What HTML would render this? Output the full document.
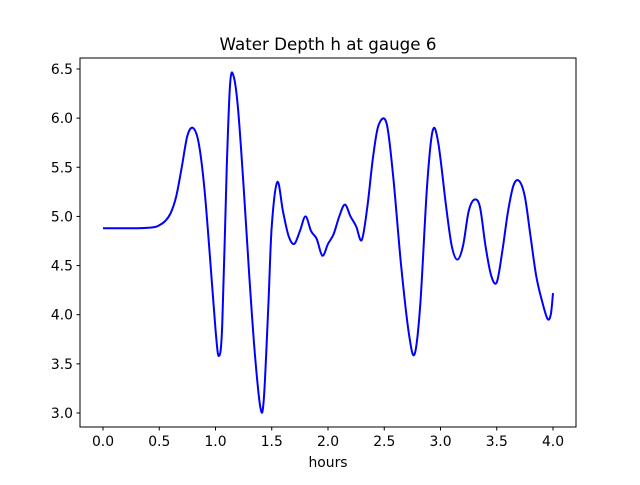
<!DOCTYPE html>
<html><head><meta charset="utf-8"><style>
body{margin:0;background:#fff}
svg text{font-family:"DejaVu Sans","Liberation Sans",sans-serif;fill:#000}
</style></head><body>
<svg id="chart" width="640" height="480" xmlns="http://www.w3.org/2000/svg">
<rect width="640" height="480" fill="#fff"/>
<text x="328" y="50" font-size="16.7" text-anchor="middle">Water Depth h at gauge 6</text>
<g id="axes"></g>
<path id="line" fill="none" stroke="#0000ff" stroke-width="2"/>
<rect x="80" y="58" width="496" height="369" fill="none" stroke="#000" stroke-width="1"/>
<text x="328" y="467" font-size="13.9" text-anchor="middle">hours</text>
</svg>
<script>
const hours=[0,0.3,0.45,0.5,0.55,0.6,0.65,0.7,0.75,0.8,0.85,0.9,0.95,1.0,1.03,1.06,1.1,1.13,1.16,1.2,1.25,1.3,1.35,1.4,1.43,1.47,1.5,1.55,1.6,1.65,1.7,1.75,1.8,1.85,1.9,1.95,2.0,2.05,2.1,2.15,2.2,2.25,2.3,2.35,2.4,2.45,2.52,2.58,2.65,2.72,2.77,2.82,2.88,2.93,2.98,3.05,3.1,3.15,3.2,3.25,3.3,3.35,3.4,3.45,3.5,3.55,3.6,3.65,3.7,3.75,3.8,3.85,3.9,3.95,3.98,4.0];
const depth=[4.88,4.88,4.89,4.91,4.95,5.03,5.2,5.5,5.82,5.9,5.75,5.3,4.6,3.85,3.58,3.9,5.5,6.35,6.43,6.1,5.3,4.4,3.6,3.05,3.15,4.1,4.9,5.35,5.05,4.8,4.72,4.85,5.0,4.85,4.77,4.6,4.72,4.82,5.0,5.12,5.0,4.9,4.76,5.1,5.6,5.93,5.95,5.4,4.5,3.8,3.6,4.1,5.3,5.87,5.75,5.1,4.7,4.56,4.7,5.05,5.17,5.1,4.7,4.4,4.33,4.65,5.05,5.32,5.36,5.2,4.8,4.4,4.15,3.96,4.0,4.22];
const xTicks=["0.0","0.5","1.0","1.5","2.0","2.5","3.0","3.5","4.0"];
const yTicks=["3.0","3.5","4.0","4.5","5.0","5.5","6.0","6.5"];
const X=v=>103+v*112.5, Y=v=>413-(v-3)*98.29;
const NS="http://www.w3.org/2000/svg", ax=document.getElementById('axes');
function mk(t,a){const e=document.createElementNS(NS,t);for(const k in a)e.setAttribute(k,a[k]);ax.appendChild(e);return e;}
xTicks.forEach(t=>{const x=X(+t);
 const l=mk('line',{x1:x,x2:x,y1:427,y2:430.5,stroke:'#000'});
 
 
 const s=mk('text',{x:x,y:446,'font-size':13.9,'text-anchor':'middle'});s.textContent=t;
 
 });
yTicks.forEach(t=>{const y=Y(+t);
 const l=mk('line',{x1:76.5,x2:80,y1:y,y2:y,stroke:'#000'});
 
 
 const s=mk('text',{x:73,y:y+5,'font-size':13.9,'text-anchor':'end'});s.textContent=t;
 
 });
const P=hours.map((h,i)=>[X(h),Y(depth[i])]);
let d=`M${P[0][0]},${P[0][1]}`;
for(let i=0;i<P.length-1;i++){const p0=P[Math.max(0,i-1)],p1=P[i],p2=P[i+1],p3=P[Math.min(P.length-1,i+2)];
 const c1=[p1[0]+(p2[0]-p0[0])/6,p1[1]+(p2[1]-p0[1])/6],c2=[p2[0]-(p3[0]-p1[0])/6,p2[1]-(p3[1]-p1[1])/6];
 d+=` C${c1[0]},${c1[1]} ${c2[0]},${c2[1]} ${p2[0]},${p2[1]}`;}
document.getElementById('line').setAttribute('d',d);
</script>
</body></html>
